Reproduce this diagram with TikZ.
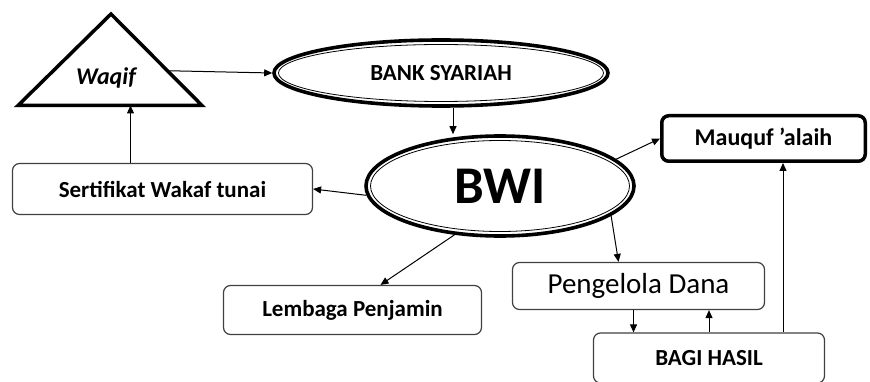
\documentclass[tikz,border=0pt]{standalone}
\usepackage{fontspec}
\setmainfont{Carlito}
\usetikzlibrary{arrows.meta,calc,shapes.geometric}

\begin{document}
\begin{tikzpicture}[x=1pt, y=-1pt,
  every node/.style={font=\bfseries\fontsize{23}{26}\selectfont},
  arr/.style={-{Triangle[length=8pt,width=7pt]}, line width=1pt},
  bx/.style={rounded corners=7pt, draw=black!75, line width=1.2pt, inner sep=0pt},
  oval/.style={ellipse, draw, line width=3.6pt, inner sep=0pt},
  tri/.style={line width=3.5pt, line join=miter}]
\useasboundingbox (0,0) rectangle (870,382);
\clip (0,0) rectangle (870,382);
% Waqif
\coordinate (wqtop) at (111,14);
\coordinate (wqleft) at (18,105.5);
\coordinate (wqright) at (202,105.5);
\draw[tri] (wqleft) -- (wqtop) -- (wqright) -- cycle;
\node[font=\bfseries\itshape\fontsize{24}{26}\selectfont] (waqif) at (106,78) {Waqif};
% Bank Syariah
\node[oval, minimum width=334, minimum height=66] (bank) at (441,73) {BANK SYARIAH};
\draw[line width=0.8pt] (bank.center) ellipse [x radius=162.5, y radius=28.5];
% BWI
\node[oval, minimum width=268, minimum height=100, font=\bfseries\fontsize{53}{56}\selectfont] (bwi) at (500,186) {BWI};
\draw[line width=0.8pt] (bwi.center) ellipse [x radius=129.5, y radius=45.5];
% Boxes
\node[bx, draw=black, line width=3.5pt, minimum width=203.5, minimum height=45.5, font=\bfseries\fontsize{24}{26}\selectfont] (maq) at (763.5,138.5) {Mauquf ’alaih};
\node[bx, minimum width=300, minimum height=51] (sert) at (162.5,189) {Sertifikat Wakaf tunai};
\node[bx, minimum width=258, minimum height=49] (lemb) at (352.5,310) {Lembaga Penjamin};
\node[bx, minimum width=252, minimum height=47, font=\fontsize{29}{31}\selectfont] (peng) at (638.5,286) {Pengelola Dana};
\node[bx, minimum width=231, minimum height=50] (bagi) at (709,358) {BAGI HASIL};
% Arrows
\draw[arr] ($(wqtop)!0.62!(wqright)$) -- (bank.west);
\draw[arr] ([xshift=-32]sert.north) -- ([xshift=-32]sert.north |- wqleft);
\draw[arr] ([xshift=12]bank.south) -- ([xshift=-47]bwi.north);
\draw[arr] (bwi.184) -- (sert.east);
\draw[arr] (bwi.227) -- ([xshift=28]lemb.north);
\draw[arr] (bwi.-15) -- ([xshift=-20]peng.north);
\draw[arr] (bwi.13) -- (maq.west);
\draw[arr] ([xshift=-5]peng.south) -- ([xshift=-5]peng.south |- bagi.north);
\draw[arr] (bagi.north) -- (bagi.north |- peng.south);
\draw[arr] ([xshift=74]bagi.north) -- ([xshift=74]bagi.north |- maq.south);
\end{tikzpicture}
\end{document}
